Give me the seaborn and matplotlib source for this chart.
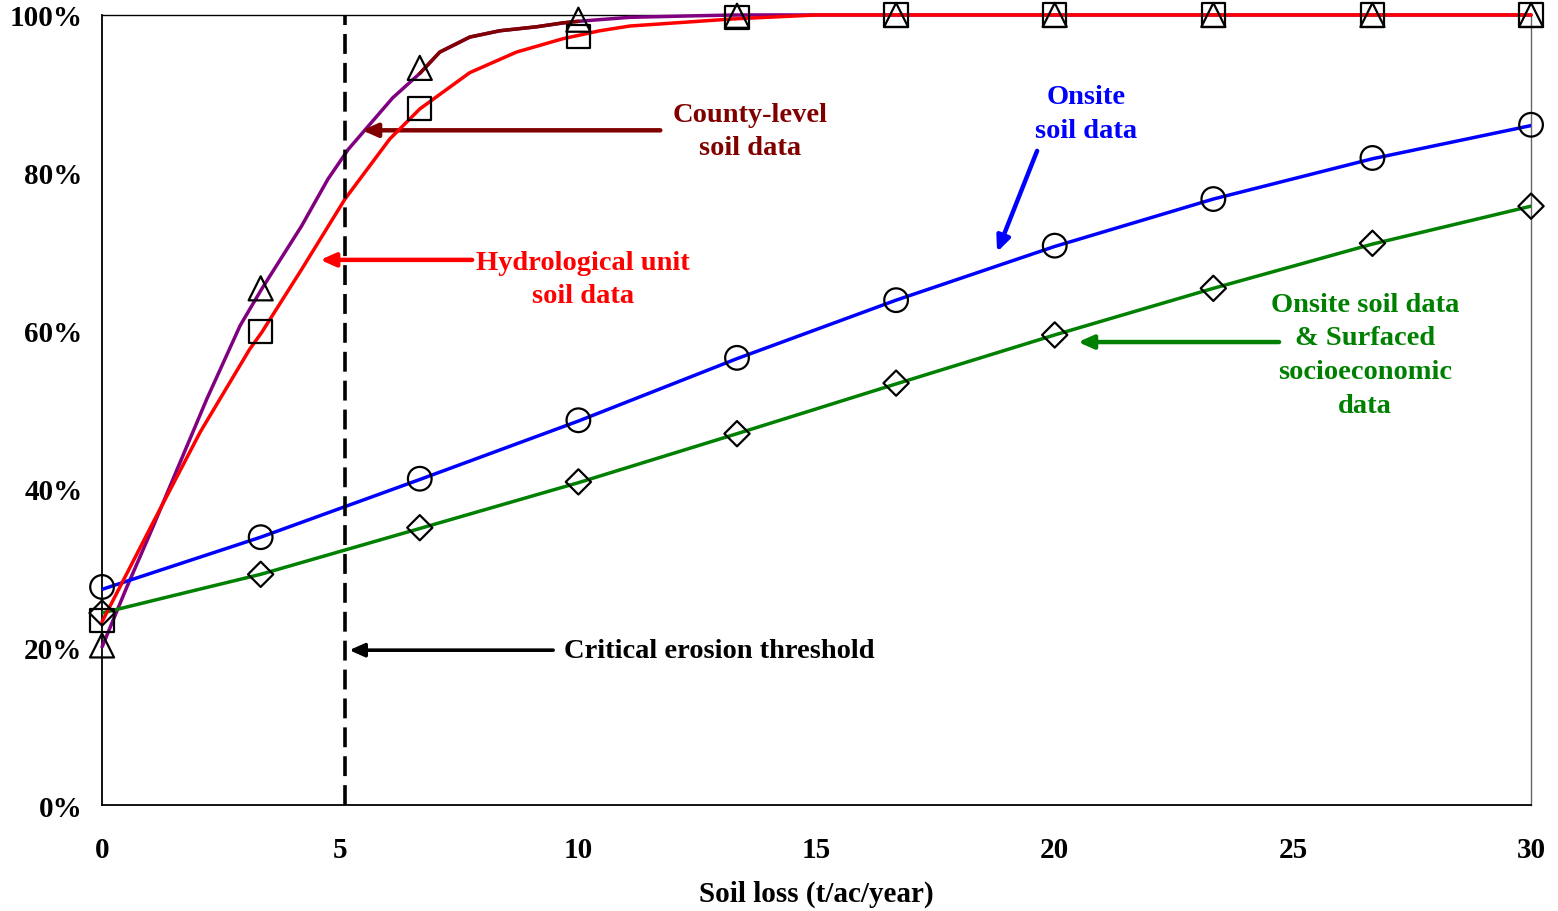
import pandas as pd
import matplotlib
matplotlib.use("Agg")
import matplotlib.pyplot as plt
import seaborn as sns

# marker positions (soil loss, t/ac/year)
marker_x = [0, 3.33, 6.67, 10, 13.33, 16.67, 20, 23.33, 26.67, 30]
circle_y = [27.6, 33.9, 41.3, 48.7, 56.6, 63.9, 70.8, 76.7, 81.9, 86.1]
diamond_y = [24.3, 29.2, 35.1, 40.9, 47.0, 53.4, 59.5, 65.4, 71.1, 75.8]
square_y = [23.4, 59.9, 88.2, 97.3, 99.7, 100, 100, 100, 100, 100]
triangle_y = [20.2, 65.4, 93.3, 99.4, 99.9, 100, 100, 100, 100, 100]

# curves
county_x = [0, 0.5, 1.04, 1.64, 2.2, 2.9, 3.35, 4.19, 4.74, 5.17, 5.5, 6.1, 6.67,
            7.09, 7.72, 8.35, 9.12, 9.68, 10, 11.08, 12.5, 13.33, 30]
county_y = [20, 27.3, 34.8, 43.4, 51.4, 60.7, 65.3, 73.3, 79.2, 83, 85.3, 89.5, 92.6,
            95.3, 97.2, 98.0, 98.5, 99.0, 99.2, 99.7, 99.9, 100, 100]
hydro_x = [0, 1.04, 2.06, 3.1, 3.35, 4.19, 5.1, 6.04, 6.67, 7.72, 8.7, 9.68, 10.45,
           11.08, 13.25, 15, 30]
hydro_y = [23.2, 35.4, 47.2, 57.7, 59.8, 67.8, 76.7, 84.3, 88.1, 92.7, 95.3, 97.0, 98.0,
           98.6, 99.5, 100, 100]
onsite_x = [0, 3.33, 6.67, 10, 13.33, 16.67, 20, 23.33, 26.67, 30]
onsite_y = [27.3, 33.9, 41.2, 48.6, 56.5, 63.9, 70.7, 76.7, 81.8, 86.0]
socio_x = [0, 1.49, 3.33, 6.67, 10, 13.33, 16.67, 20, 23.33, 26.67, 30]
socio_y = [24.3, 26.5, 29.2, 35.0, 40.8, 47.0, 53.3, 59.5, 65.4, 71.0, 75.8]

threshold = 5.1
x_ticks = [0, 5, 10, 15, 20, 25, 30]
y_ticks = [0, 20, 40, 60, 80, 100]
y_tick_labels = ["0%", "20%", "40%", "60%", "80%", "100%"]

MAROON = "#800000"
PURPLE = "#800080"
RED = "#FF0000"
BLUE = "#0000FF"
GREEN = "#008000"

sns.set_style("white")
plt.rcParams["font.family"] = ["Liberation Serif", "DejaVu Serif"]
plt.rcParams["font.weight"] = "bold"
plt.rcParams["text.color"] = "black"
plt.rcParams["axes.labelcolor"] = "black"

fig = plt.figure(figsize=(15.58, 9.12), dpi=100)
ax = fig.add_axes([0.0655, 0.1162, 0.9172, 0.8663])

county = pd.DataFrame({"x": county_x, "y": county_y})
lw = 2.5
sns.lineplot(data=county, x="x", y="y", color=PURPLE, lw=lw, sort=False, ax=ax,
             clip_on=False, zorder=3)
mid = county[(county.x >= 6.67) & (county.x <= 10)]
sns.lineplot(data=mid, x="x", y="y", color=MAROON, lw=lw, sort=False, ax=ax,
             clip_on=False, zorder=3.1)
sns.lineplot(x=hydro_x, y=hydro_y, color=RED, lw=lw, sort=False, ax=ax,
             clip_on=False, zorder=3.2)
sns.lineplot(x=onsite_x, y=onsite_y, color=BLUE, lw=lw, sort=False, ax=ax, zorder=3)
sns.lineplot(x=socio_x, y=socio_y, color=GREEN, lw=lw, sort=False, ax=ax, zorder=3)

for ys, mk, size in [(circle_y, "o", 290), (diamond_y, "D", 165),
                     (square_y, "s", 280), (triangle_y, "^", 300)]:
    sns.scatterplot(x=marker_x, y=ys, marker=mk, s=size, facecolor="none",
                    edgecolor="black", linewidth=1.6, ax=ax, clip_on=False, zorder=5)

ax.vlines(threshold, 0, 100, colors="black", lw=2.6, linestyles=(0, (5.5, 2.5)), zorder=4)

ax.set_xlim(0, 30)
ax.set_ylim(0, 100)
ax.set_xticks(x_ticks)
ax.set_yticks(y_ticks)
ax.set_yticklabels(y_tick_labels)
ax.tick_params(direction="out", length=8, width=1, colors="#555555",
               labelcolor="black", labelsize=21, pad=6)
ax.tick_params(axis="x", pad=14)
ax.set_xlabel("Soil loss (t/ac/year)", fontsize=21, fontweight="bold", labelpad=12)
ax.set_ylabel("")

for side in ["left", "bottom"]:
    ax.spines[side].set_color("black")
    ax.spines[side].set_linewidth(1.3)
ax.spines["top"].set_color("black")
ax.spines["top"].set_linewidth(1.0)
ax.spines["right"].set_color("#666666")
ax.spines["right"].set_linewidth(1.0)

fs = 20.5
arrow = dict(arrowstyle="-|>,head_length=0.9,head_width=0.4", lw=3.2, shrinkA=0, shrinkB=0)

ax.text(13.6, 85.3, "County-level\nsoil data", color=MAROON, fontsize=fs,
        fontweight="bold", ha="center", va="center", linespacing=1.45)
ax.annotate("", xy=(5.46, 85.4), xytext=(11.72, 85.4),
            arrowprops=dict(arrow, color=MAROON))

ax.text(10.1, 66.6, "Hydrological unit\nsoil data", color=RED, fontsize=fs,
        fontweight="bold", ha="center", va="center", linespacing=1.45)
ax.annotate("", xy=(4.58, 69.0), xytext=(7.77, 69.0),
            arrowprops=dict(arrow, color=RED))

ax.text(9.7, 19.5, "Critical erosion threshold", color="black", fontsize=fs,
        fontweight="bold", ha="left", va="center")
ax.annotate("", xy=(5.19, 19.6), xytext=(9.47, 19.6),
            arrowprops=dict(arrow, color="black", lw=2.6))

ax.text(20.66, 87.5, "Onsite\nsoil data", color=BLUE, fontsize=fs,
        fontweight="bold", ha="center", va="center", linespacing=1.45)
ax.annotate("", xy=(18.79, 70.0), xytext=(19.63, 82.8),
            arrowprops=dict(arrow, color=BLUE))

ax.text(26.52, 57.0, "Onsite soil data\n& Surfaced\nsocioeconomic\ndata", color=GREEN,
        fontsize=fs, fontweight="bold", ha="center", va="center", linespacing=1.45)
ax.annotate("", xy=(20.49, 58.6), xytext=(24.71, 58.6),
            arrowprops=dict(arrow, color=GREEN))

fig.savefig("out.png", dpi=100)
